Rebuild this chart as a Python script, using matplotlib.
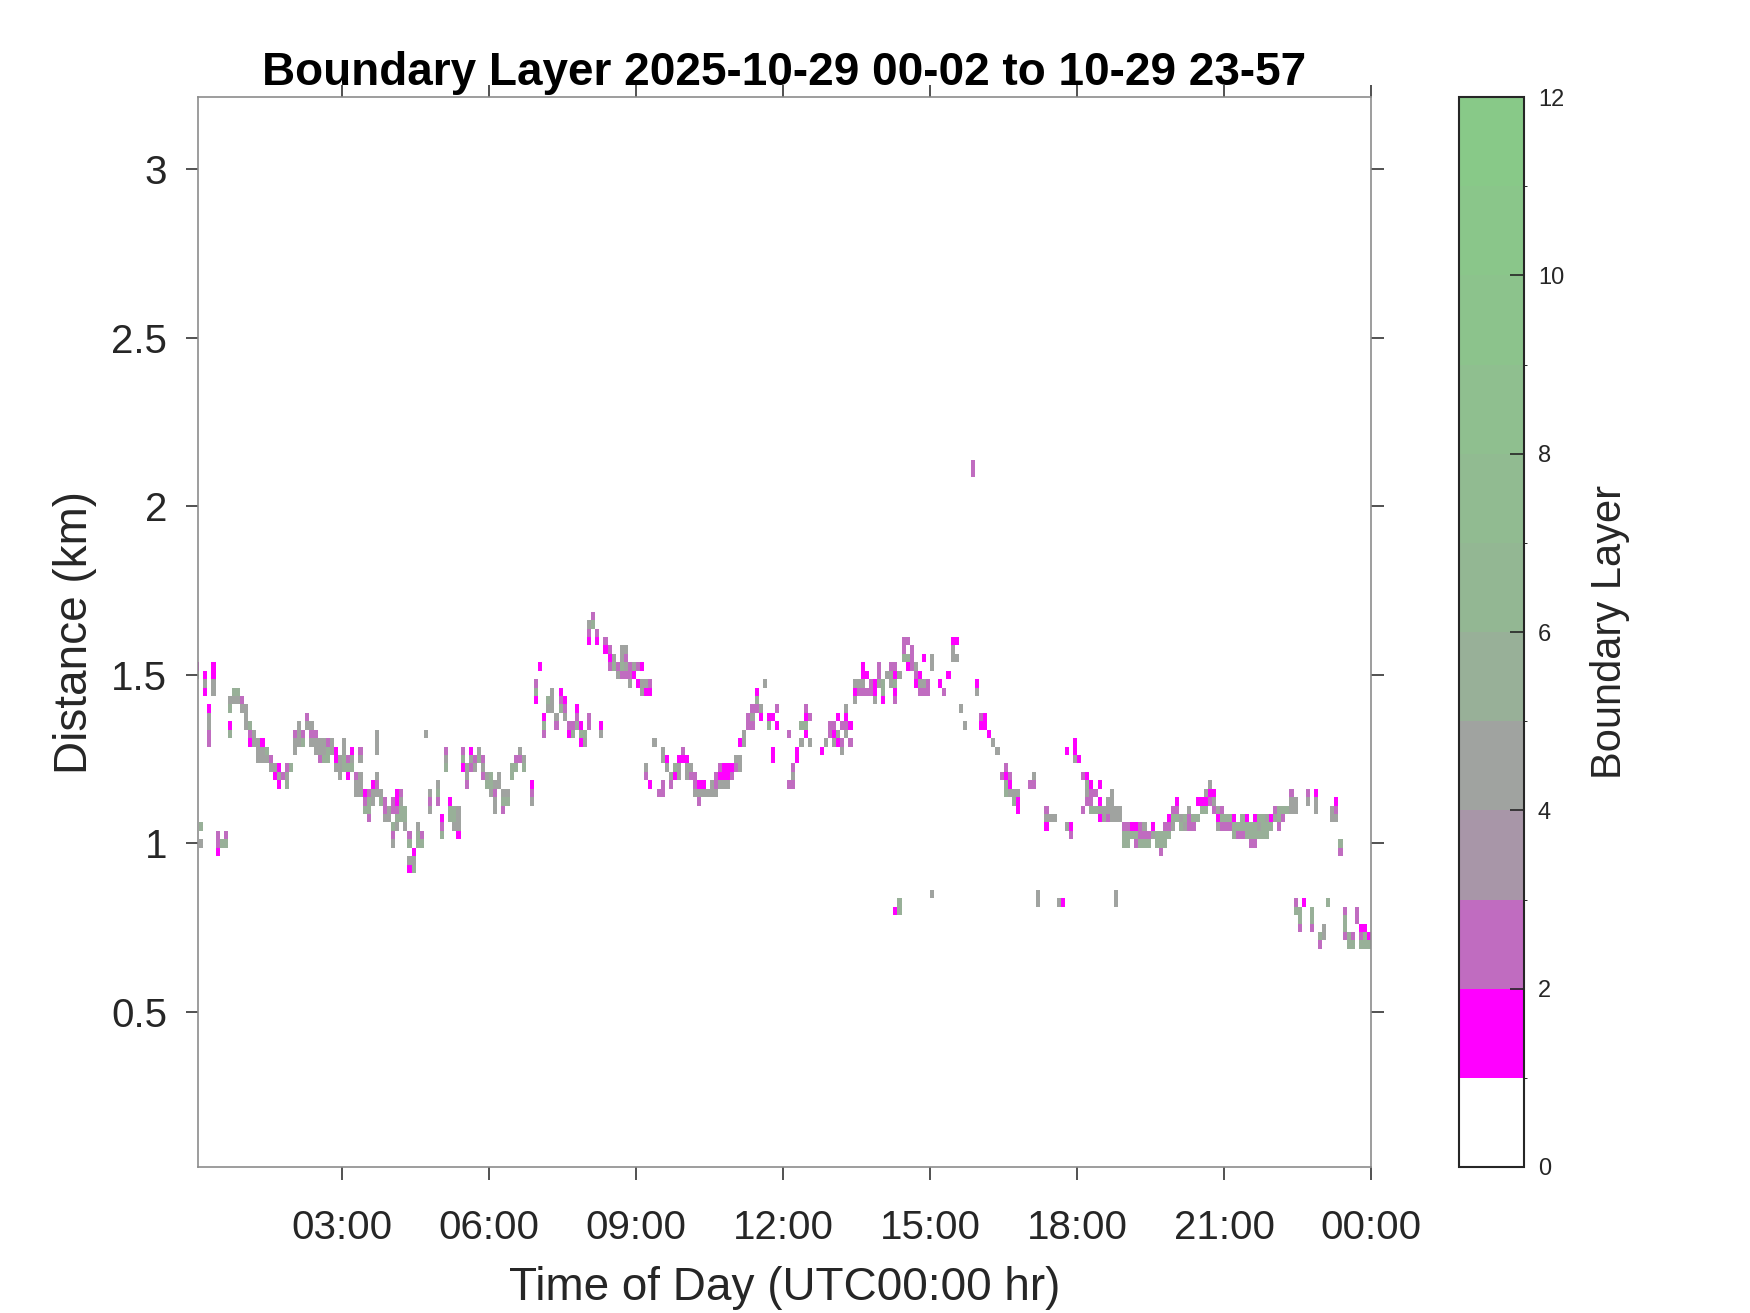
import numpy as np
import matplotlib
matplotlib.use("Agg")
import matplotlib.pyplot as plt
from matplotlib.colors import ListedColormap, BoundaryNorm

plt.rcParams['font.family'] = ['Liberation Sans', 'DejaVu Sans']

# 5-minute profiles (col 0 = 00:02), 25 m range gates
n_cols = 288
col_hours = 1.0 / 12
gate_km = 0.025

# boundary layer detections: (column, top gate km, codes from top down, '.' = empty)
cells = [
    (0, 1.525, "15"), (1, 1.05, "5.4"), (2, 1.50, "141"), (3, 1.40, "14422"),
    (4, 1.525, "1144"), (5, 1.025, "221"), (6, 1.00, "5"), (7, 1.025, "25"),
    (8, 1.425, "45.15"), (9, 1.45, "54"), (10, 1.45, "54"), (11, 1.425, "24"),
    (12, 1.40, "444"), (13, 1.35, "521"), (14, 1.325, "44"), (15, 1.30, "444"),
    (16, 1.30, "144"), (17, 1.275, "54"), (18, 1.25, "24"), (19, 1.225, "41"),
    (20, 1.225, "141"), (21, 1.20, "2"), (22, 1.225, "245"), (23, 1.225, "5"),
    (24, 1.325, "244"), (25, 1.35, "444"), (26, 1.325, "25"), (27, 1.375, "24"),
    (28, 1.35, "424"), (29, 1.325, "244"), (30, 1.30, "442"), (31, 1.30, "445"),
    (32, 1.30, "255"), (33, 1.30, "44"), (34, 1.275, "114"), (35, 1.25, "444"),
    (36, 1.30, "4455"), (37, 1.25, "251"), (38, 1.275, "145"), (39, 1.20, "244"),
    (40, 1.275, "24.444"), (41, 1.15, "125"), (42, 1.15, "2552"), (43, 1.175, "144"),
    (44, 1.325, "444..424"), (45, 1.15, "45"), (46, 1.125, "224"), (47, 1.10, "44"),
    (48, 1.05, "524"), (48, 1.125, "22"),
    (49, 1.15, "11254"), (50, 1.15, "2455"), (51, 1.10, "554"), (52, 1.025, "25.41"),
    (53, 0.975, "145"), (54, 1.05, "455"), (55, 1.025, "25"), (56, 1.325, "4"),
    (57, 1.15, "424"), (59, 1.175, "452"), (60, 1.075, "125"), (61, 1.275, "245"),
    (62, 1.125, "155"), (63, 1.10, "554"), (64, 1.10, "4441"), (65, 1.275, "251"),
    (66, 1.225, "442"), (67, 1.275, "142"), (68, 1.25, "24"), (69, 1.275, "45"),
    (70, 1.25, "242"), (71, 1.20, "45"), (72, 1.20, "554"), (73, 1.175, "4244"),
    (74, 1.20, "44"), (75, 1.15, "452"), (76, 1.15, "45"), (77, 1.225, "55"),
    (78, 1.25, "25"), (79, 1.275, "42"), (80, 1.25, "45"), (82, 1.175, "124"),
    (83, 1.475, "251"), (84, 1.525, "1"), (85, 1.375, "152"), (86, 1.425, "54"),
    (87, 1.45, "444"), (88, 1.375, "42"), (89, 1.45, "125"), (90, 1.425, "124"),
    (91, 1.35, "21"), (92, 1.35, "25"), (93, 1.40, "124"), (94, 1.35, "151"),
    (95, 1.325, "54"), (96, 1.375, "22"),
    (96, 1.65, "421"), (97, 1.675, "25"), (98, 1.625, "21"), (99, 1.35, "14"),
    (100, 1.60, "21"), (101, 1.575, "212"), (102, 1.55, "45"), (103, 1.525, "24"),
    (104, 1.575, "4452"), (105, 1.575, "4242"), (106, 1.525, "224"), (107, 1.525, "41"),
    (108, 1.525, "2.1"), (109, 1.525, "1.44"), (110, 1.475, "41"), (111, 1.475, "21"),
    (110, 1.225, "42"), (111, 1.175, "1"), (112, 1.30, "4"), (113, 1.15, "2"),
    (114, 1.275, "44"), (114, 1.175, "22"), (115, 1.25, "14"), (116, 1.20, "42"),
    (117, 1.225, "51"), (118, 1.25, "144"), (119, 1.275, "21"), (120, 1.25, "144"),
    (121, 1.225, "42"), (122, 1.20, "224"), (123, 1.175, "142"), (124, 1.175, "14"),
    (125, 1.15, "4"), (126, 1.175, "44"), (127, 1.20, "224"), (128, 1.225, "214"),
    (129, 1.225, "114"), (130, 1.225, "114"), (131, 1.225, "12"), (132, 1.25, "42"),
    (133, 1.30, "1.44"), (134, 1.325, "44"), (135, 1.375, "22"), (136, 1.40, "242"),
    (137, 1.45, "152"), (138, 1.40, "41"), (139, 1.475, "4"), (140, 1.375, "15"),
    (141, 1.375, "1"), (141, 1.275, "11"), (142, 1.40, "2.1"),
    (145, 1.175, "2"), (145, 1.325, "2"), (146, 1.225, "242"), (147, 1.275, "11"),
    (148, 1.35, "5.4"), (149, 1.40, "2151"), (150, 1.375, "2..4"), (153, 1.275, "1"),
    (154, 1.30, "4"), (155, 1.35, "22"), (156, 1.35, "214"), (157, 1.375, "1.41"),
    (158, 1.35, "2.24"), (159, 1.40, "4124"), (160, 1.35, "1.2"), (161, 1.475, "414"),
    (162, 1.475, "42"), (163, 1.525, "1142"), (164, 1.50, "1.2"), (165, 1.475, "22"),
    (166, 1.475, "114"), (167, 1.525, "224"), (168, 1.475, "551"), (169, 1.50, "4"),
    (170, 1.525, "244"), (171, 1.525, "21512"), (172, 1.50, "4"), (173, 1.60, "225"),
    (174, 1.60, "2.51"), (175, 1.575, "222"), (176, 1.525, "421"), (177, 1.50, "142"),
    (178, 1.55, "1..42"), (179, 1.475, "22"), (180, 1.55, "44"), (182, 1.475, "1"),
    (183, 1.45, "2"), (184, 1.50, "1"), (185, 1.60, "144"), (186, 1.60, "1.4"),
    (187, 1.40, "4"), (188, 1.35, "4"), (191, 1.475, "14"),
    (171, 0.80, "1"), (172, 0.825, "55"), (180, 0.85, "4"),
    (190, 2.125, "22"), (192, 1.375, "21"), (193, 1.375, "11"), (194, 1.325, "1"),
    (195, 1.30, "4"), (196, 1.275, "4"), (197, 1.20, "2"), (198, 1.225, "2155"),
    (199, 1.20, "214"), (200, 1.15, "45"), (201, 1.15, "411"), (204, 1.175, "2"),
    (205, 1.20, "42"), (206, 0.85, "44"), (208, 1.10, "241"), (209, 1.075, "4"),
    (210, 1.075, "4"), (211, 0.825, "4"), (212, 0.825, "1"), (213, 1.275, "1"),
    (213, 1.05, "4"), (214, 1.05, "12"), (215, 1.30, "114"), (216, 1.25, "1"),
    (217, 1.20, "2"), (217, 1.10, "2"), (218, 1.20, "1542"), (219, 1.175, "1225"),
    (220, 1.15, "2.5"), (221, 1.175, "1.141"), (222, 1.10, "44"), (223, 1.125, "442"),
    (224, 1.15, "4444"), (225, 1.10, "44"), (225, 0.85, "44"), (226, 1.10, "44"),
    (227, 1.05, "255"), (228, 1.05, "255"), (229, 1.05, "15"), (230, 1.05, "152"),
    (231, 1.05, "225"), (232, 1.05, "425"), (233, 1.025, "25"), (234, 1.05, "14"),
    (235, 1.025, "55"), (236, 1.025, "552"), (237, 1.05, "255"), (238, 1.075, "125"),
    (239, 1.10, "254"),
    (240, 1.125, "125"), (241, 1.075, "45"), (242, 1.075, "54"), (243, 1.10, "422"),
    (244, 1.075, "52"), (245, 1.125, "1.5"), (246, 1.125, "15"), (247, 1.15, "415"),
    (248, 1.175, "412"), (249, 1.15, "142"), (250, 1.10, "414"), (251, 1.10, "252"),
    (252, 1.075, "52"), (253, 1.075, "52"), (254, 1.075, "155"), (255, 1.05, "52"),
    (256, 1.075, "552"), (257, 1.075, "155"), (258, 1.05, "552"), (259, 1.075, "1552"),
    (260, 1.075, "545"), (261, 1.075, "555"), (262, 1.075, "455"), (263, 1.075, "15"),
    (264, 1.10, "24"), (265, 1.10, "552"), (266, 1.10, "52"), (267, 1.10, "5"),
    (268, 1.15, "244"), (269, 1.125, "44"), (272, 1.15, "24"), (274, 1.15, "144"),
    (278, 1.10, "44"), (279, 1.125, "124"), (280, 1.00, "52"),
    (269, 0.825, "25"), (270, 0.80, "552"), (271, 0.825, "1"), (273, 0.80, "552"),
    (275, 0.725, "52"), (276, 0.75, "44"), (277, 0.825, "5"), (281, 0.80, "2552"),
    (282, 0.725, "55"), (283, 0.725, "25"), (284, 0.80, "22"), (285, 0.75, "125"),
    (286, 0.75, "155"), (287, 0.725, "15"),
]

level_colors = ['#ffffff', '#ff00ff', '#c06cc0', '#a896a8', '#a0a3a0', '#98b098',
                '#93b793', '#91bb91', '#8fbf8f', '#8cc38c', '#8ac68a', '#88c988']

x_ticks = [3, 6, 9, 12, 15, 18, 21, 24]
x_labels = ['03:00', '06:00', '09:00', '12:00', '15:00', '18:00', '21:00', '00:00']
y_ticks = [0.5, 1, 1.5, 2, 2.5, 3]
y_labels = ['0.5', '1', '1.5', '2', '2.5', '3']
cb_ticks = [0, 2, 4, 6, 8, 10, 12]

# fill the time-height grid
n_gates = 130
grid = np.full((n_gates, n_cols), np.nan)
for col, top, codes in cells:
    g = int(round(top / gate_km))
    for c in codes:
        if c != '.':
            grid[g, col] = int(c) + 0.5
        g -= 1

x_edges = np.arange(n_cols + 1) * col_hours
y_edges = (np.arange(n_gates + 1) - 0.5) * gate_km

fig = plt.figure(figsize=(17.5, 13.13), dpi=100)
ax = fig.add_axes([0.1129, 0.1112, 0.6706, 0.8149])
cax = fig.add_axes([0.8337, 0.1112, 0.0371, 0.8149])

cmap = ListedColormap(level_colors)
norm = BoundaryNorm(np.arange(13), 12)
mesh = ax.pcolormesh(x_edges, y_edges, np.ma.masked_invalid(grid), cmap=cmap, norm=norm)

ax.set_xlim(0.05, 24)
ax.set_ylim(0.04, 3.215)
ax.set_xticks(x_ticks)
ax.set_xticklabels(x_labels)
ax.set_yticks(y_ticks)
ax.set_yticklabels(y_labels)
ax.tick_params(axis='both', direction='out', length=9, width=1.2, color='#333333',
               labelsize=29, labelcolor='#262626', top=True, right=True)
ax.tick_params(axis='x', pad=21)
ax.tick_params(axis='y', pad=13)
for s in ax.spines.values():
    s.set_color('#8c8c8c')
    s.set_linewidth(1.2)

ax.set_xlabel('Time of Day (UTC00:00 hr)', fontsize=33, color='#262626', va='center')
ax.xaxis.set_label_coords(0.5, -0.113)
ax.set_ylabel('Distance (km)', fontsize=33, color='#262626', va='center')
ax.yaxis.set_label_coords(-0.1044, 0.5)
ax.text(0.5, 1.011, 'Boundary Layer 2025-10-29 00-02 to 10-29 23-57', transform=ax.transAxes,
        ha='center', va='baseline', fontsize=33, fontweight='bold', color='black')

cb = fig.colorbar(mesh, cax=cax, ticks=cb_ticks)
cb.ax.tick_params(direction='in', length=10, width=1.2, labelsize=17, pad=10,
                  color='#262626', labelcolor='#262626')
cb.outline.set_edgecolor('#262626')
cb.outline.set_linewidth(1.5)
cb.set_label('Boundary Layer', fontsize=30, color='#262626', va='center')
cb.ax.yaxis.set_label_coords(2.33, 0.5)

fig.savefig('out.png', dpi=100)
